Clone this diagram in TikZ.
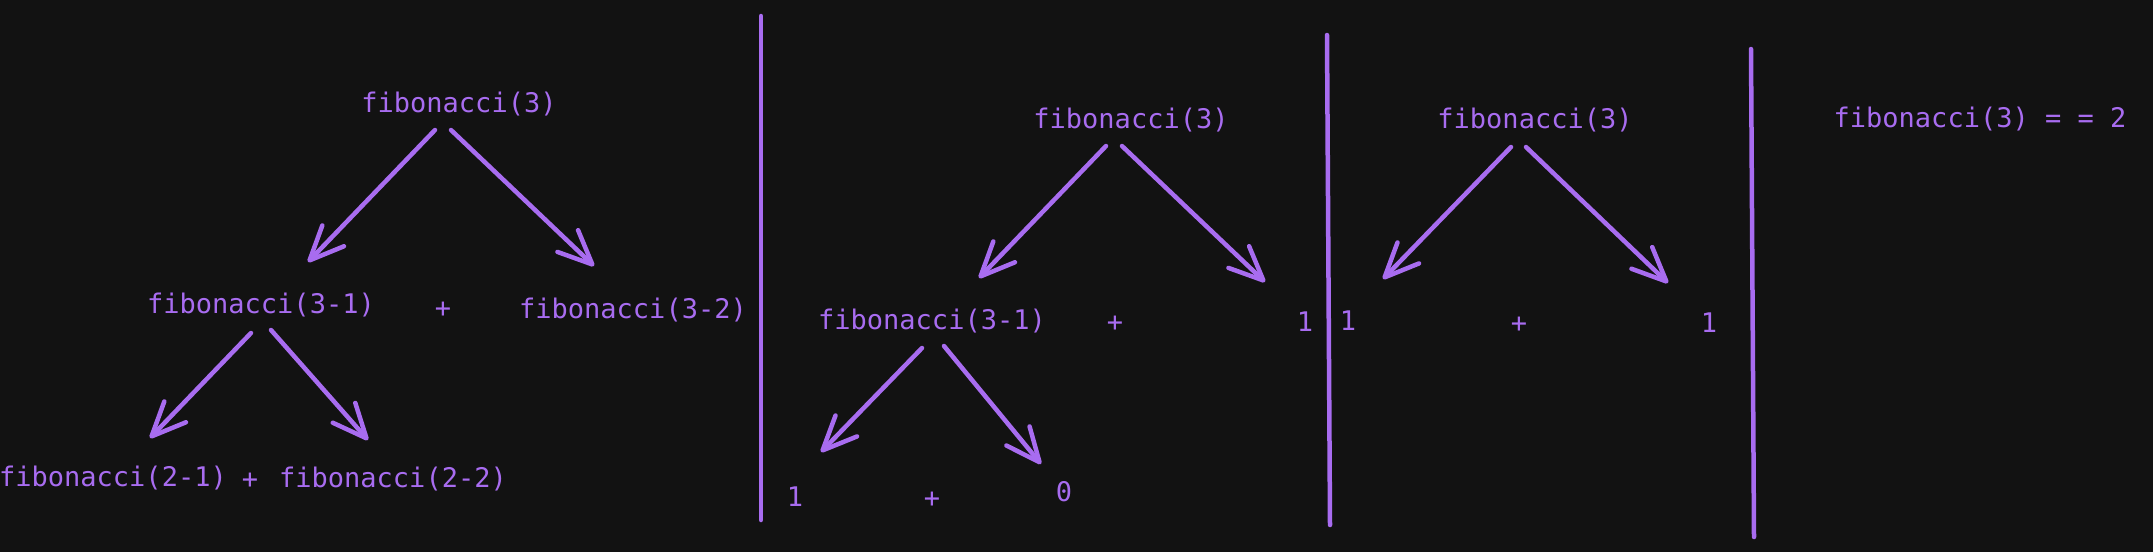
\documentclass[tikz,border=0pt]{standalone}
\usepackage{fontspec}
\newfontfamily\codefont{DejaVu Sans Mono}
\usetikzlibrary{arrows.meta}
\definecolor{bgdark}{HTML}{121212}
\definecolor{violetink}{RGB}{168,108,240}
\tikzset{
  lbl/.style={text=violetink, inner sep=0pt, anchor=base, font=\codefont\fontsize{27}{27}\selectfont},
  arr/.style={draw=violetink, line width=4.5pt, line cap=round, line join=round,
    -{Straight Barb[length=34pt,width=30pt,round]}},
  divider/.style={draw=violetink, line width=4.5pt, line cap=round}
}
\begin{document}
\begin{tikzpicture}[x=1pt,y=-1pt]
\fill[bgdark] (0,0) rectangle (2153,552);
\useasboundingbox (0,0) rectangle (2153,552);

% ---- panel A ----
\node[lbl] (fibA)   at (459,112) {fibonacci(3)};
\node[lbl] (fibA31) at (261,313) {fibonacci(3-1)};
\node[lbl] (plusA1) at (443,317) {+};
\node[lbl] (fibA32) at (633,318) {fibonacci(3-2)};
\node[lbl] (fibA21) at (113,486) {fibonacci(2-1)};
\node[lbl] (plusA2) at (250,488) {+};
\node[lbl] (fibA22) at (393,487) {fibonacci(2-2)};

\draw[arr] ([shift={(-24,18)}]fibA.base) -- ([shift={(47,-51)}]fibA31.base);
\draw[arr] ([shift={(-8,18)}]fibA.base) -- ([shift={(-39,-52)}]fibA32.base);
\draw[arr] ([shift={(-10,20)}]fibA31.base) -- ([shift={(37,-48)}]fibA21.base);
\draw[arr] ([shift={(10,17)}]fibA31.base) -- ([shift={(-25,-47)}]fibA22.base);

\coordinate (d1t) at (761,16);
\coordinate (d1b) at (761,520);
\draw[divider] (d1t) -- (d1b);

% ---- panel B ----
\node[lbl] (fibB)   at (1131,128) {fibonacci(3)};
\node[lbl] (fibB31) at (932,329) {fibonacci(3-1)};
\node[lbl] (plusB1) at (1115,331) {+};
\node[lbl] (oneB)   at (1305,331) {1};
\node[lbl] (oneB2)  at (795,506) {1};
\node[lbl] (plusB2) at (932,507) {+};
\node[lbl] (zeroB)  at (1064,501) {0};

\draw[arr] ([shift={(-25,18)}]fibB.base) -- ([shift={(47,-51)}]fibB31.base);
\draw[arr] ([shift={(-9,18)}]fibB.base) -- ([shift={(-40,-49)}]oneB.base);
\draw[arr] ([shift={(-10,19)}]fibB31.base) -- ([shift={(26,-54)}]oneB2.base);
\draw[arr] ([shift={(12,17)}]fibB31.base) -- ([shift={(-23,-37)}]zeroB.base);

\coordinate (d2t) at (1327,35);
\coordinate (d2b) at (1330,525);
\draw[divider] (d2t) -- (d2b);

% ---- panel C ----
\node[lbl] (fibC)  at (1535,128) {fibonacci(3)};
\node[lbl] (oneC1) at (1348,330) {1};
\node[lbl] (plusC) at (1519,332) {+};
\node[lbl] (oneC2) at (1709,332) {1};

\draw[arr] ([shift={(-24,19)}]fibC.base) -- ([shift={(35,-51)}]oneC1.base);
\draw[arr] ([shift={(-9,19)}]fibC.base) -- ([shift={(-41,-49)}]oneC2.base);

\coordinate (d3t) at (1751,49);
\coordinate (d3b) at (1754,537);
\draw[divider] (d3t) -- (d3b);

% ---- result ----
\node[lbl] (res) at (1980,127) {fibonacci(3) = = 2};
\end{tikzpicture}
\end{document}
